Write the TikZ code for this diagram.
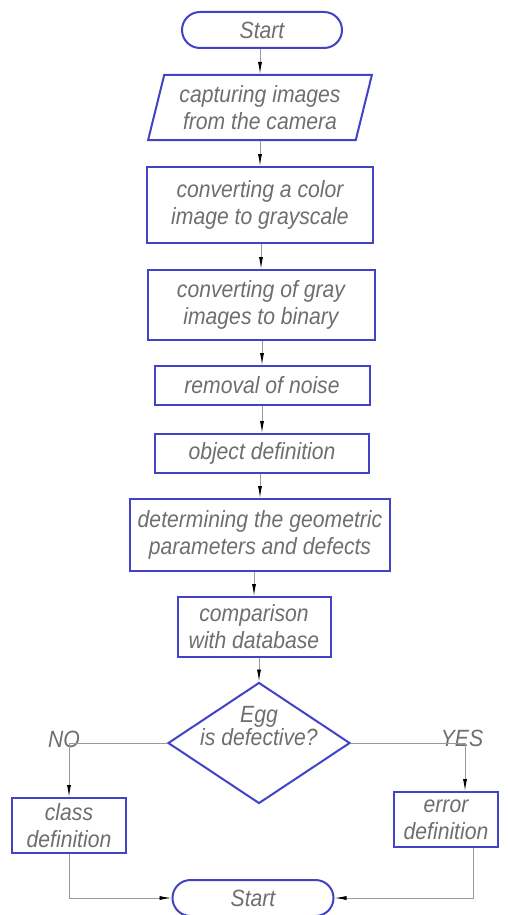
\documentclass[tikz,border=0pt]{standalone}
\usepackage{fontspec}
\setmainfont{Liberation Sans}[FakeStretch=0.9]
\usetikzlibrary{shapes.geometric, arrows.meta}

\begin{document}
\begin{tikzpicture}[
  x=1pt, y=-1pt,
  font=\itshape\fontsize{23.5}{27}\selectfont,
  procbox/.style={rectangle, draw=cbox, line width=2pt, inner sep=0pt,
                  align=center, text=ctext},
  termbox/.style={procbox, rounded corners=18pt,
                  minimum width=160pt, minimum height=36pt},
  iobox/.style={procbox, trapezium, trapezium left angle=73,
                trapezium right angle=107, trapezium stretches=true},
  decbox/.style={procbox, diamond, aspect=1.5},
  lbl/.style={inner sep=0pt, text=ctext},
  flow/.style={draw=cline, line width=0.9pt,
               -{Latex[length=12pt,width=4pt,color=black]}},
]
\definecolor{cbox}{HTML}{4242C8}    % blue outlines
\definecolor{ctext}{HTML}{6E6E6E}   % gray lettering
\definecolor{cline}{HTML}{9A9A9A}   % connectors

\useasboundingbox (0,0) rectangle (507,915);

% -------- main column --------
\node[termbox] (start) at (262,30) {Start};
\node[iobox, minimum width=224pt, minimum height=65pt] (capture) at (260,107.5)
  {capturing images\\from the camera};
\node[procbox, minimum width=226pt, minimum height=76pt] (gray) at (260,205)
  {converting a color\\image to grayscale};
\node[procbox, minimum width=227pt, minimum height=70pt] (binary) at (261,305)
  {converting of gray\\images to binary};
\node[procbox, minimum width=215pt, minimum height=39pt] (noise) at (262,385.5)
  {removal of noise};
\node[procbox, minimum width=214pt, minimum height=39pt] (object) at (262,453.5)
  {object definition};
\node[procbox, minimum width=260pt, minimum height=72pt] (geom) at (260,535)
  {determining the geometric\\parameters and defects};
\node[procbox, minimum width=153pt, minimum height=60pt] (comp) at (254,627)
  {comparison\\with database};

% -------- decision --------
\node[decbox, minimum width=182pt, minimum height=121pt] (decide) at (259,743)
  {\smash{\raisebox{8pt}{\begin{tabular}{@{}c@{}}Egg\\[-4pt]is defective?\end{tabular}}}};
\node[lbl] (nolbl) at (64,739) {NO};
\node[lbl] (yeslbl) at (462,738) {YES};

\node[procbox, minimum width=114pt, minimum height=55pt] (classdef) at (69,825.5)
  {class\\definition};
\node[procbox, minimum width=104pt, minimum height=55pt] (errdef) at (446,819.5)
  {error\\definition};

\node[termbox, minimum width=161pt] (stop) at (253,898) {Start};

% -------- connectors --------
\foreach \a/\b in {start/capture, capture/gray, gray/binary, binary/noise,
                   noise/object, object/geom, geom/comp, comp/decide}
  \draw[flow] (\b.north |- \a.south) -- (\b.north);

\draw[flow] (decide.west) -| (classdef.north);
\coordinate (yesdrop) at (465,743);
\draw[flow] (decide.east) -- (yesdrop) -- (yesdrop |- errdef.north);

\draw[flow] (classdef.south) |- (stop.west);
\coordinate (errout) at (473,0);
\draw[flow] (errdef.south -| errout) |- (stop.east);

\end{tikzpicture}
\end{document}
